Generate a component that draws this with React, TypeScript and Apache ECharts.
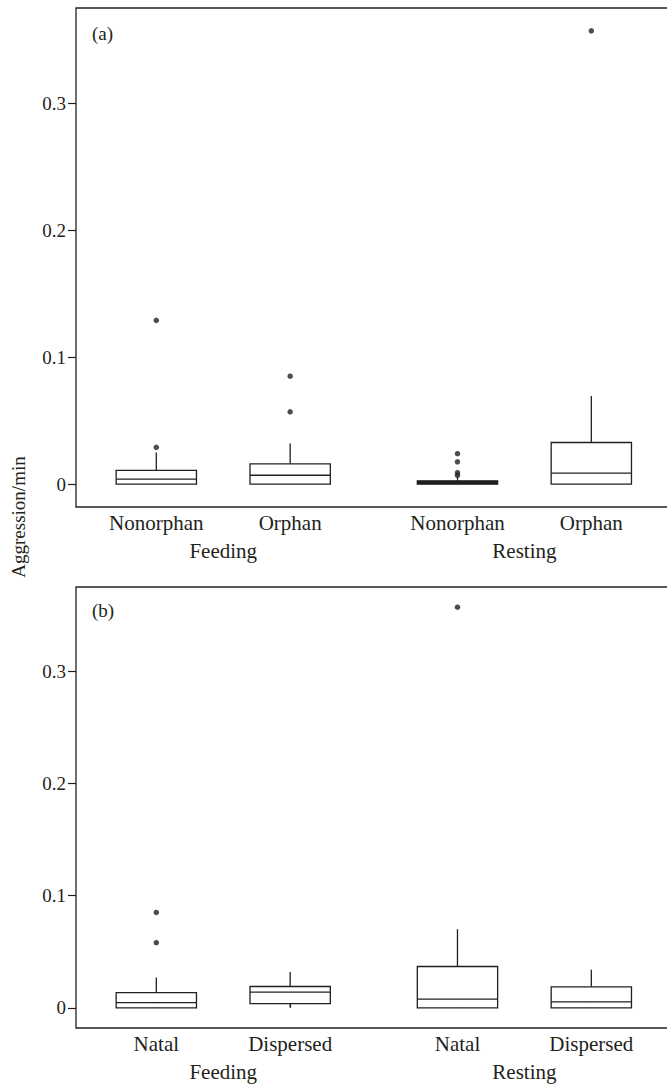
import React, { useEffect, useRef } from "react";
import * as echarts from "echarts";

// ---------- data ----------
const positions = [1, 2, 3.25, 4.25];
const groupPositions = [1.5, 3.75];
const groupNames = ["Feeding", "Resting"];
const catsA = ["Nonorphan", "Orphan", "Nonorphan", "Orphan"];
const catsB = ["Natal", "Dispersed", "Natal", "Dispersed"];
// [min, Q1, median, Q3, max]
const boxesA = [
  [0, 0, 0.004, 0.0108, 0.025],
  [0, 0, 0.007, 0.016, 0.032],
  [0, 0, 0.0013, 0.0026, 0.0026],
  [0, 0, 0.0087, 0.0328, 0.0695],
];
// [category index, value]
const outliersA = [
  [0, 0.029], [0, 0.129],
  [1, 0.057], [1, 0.085],
  [2, 0.007], [2, 0.009], [2, 0.0176], [2, 0.024],
  [3, 0.357],
];
const boxesB = [
  [0, 0, 0.0047, 0.0136, 0.027],
  [0.0006, 0.0038, 0.014, 0.019, 0.032],
  [0, 0, 0.0077, 0.0368, 0.07],
  [0, 0, 0.0053, 0.0187, 0.034],
];
const outliersB = [
  [0, 0.058], [0, 0.085],
  [2, 0.357],
];
const yTicks = [0, 0.1, 0.2, 0.3];
const panelTags = ["(a)", "(b)"];
const yTitle = "Aggression/min";

// ---------- style ----------
const INK = "#231f20";
const FONT = "'Liberation Serif', 'DejaVu Serif', serif";
const FS = 19;
const FSX = 21;
const X_MIN = 0.4;
const X_MAX = 4.9;
const UNIT = 133.85;
const GRID_W = (X_MAX - X_MIN) * UNIT;

function findIdx(arr: number[], v: number) {
  for (let i = 0; i < arr.length; i++) if (Math.abs(arr[i] - v) < 1e-6) return i;
  return -1;
}

export default function App() {
  const ref = useRef<HTMLDivElement>(null);
  useEffect(() => {
    if (!ref.current) return;
    const chart = echarts.init(ref.current, undefined, { renderer: "svg" });
    const panels = [
      { cats: catsA, boxes: boxesA, outs: outliersA, top: 8, height: 499 },
      { cats: catsB, boxes: boxesB, outs: outliersB, top: 587, height: 441 },
    ];
    const textStyle = { fontFamily: FONT, fontSize: FS, color: INK };
    const textStyleX = { fontFamily: FONT, fontSize: FSX, color: INK };
    const grid: any[] = [];
    const xAxis: any[] = [];
    const yAxis: any[] = [];
    const series: any[] = [];
    panels.forEach((p, i) => {
      grid.push({
        left: 76,
        top: p.top,
        width: GRID_W,
        height: p.height,
        show: true,
        borderColor: INK,
        borderWidth: 1.3,
        backgroundColor: "transparent",
      });
      xAxis.push({
        gridIndex: i,
        type: "value",
        min: X_MIN,
        max: X_MAX,
        position: "bottom",
        axisLine: { show: false },
        splitLine: { show: false },
        axisTick: {
          show: true,
          inside: true,
          length: 8,
          customValues: positions,
          lineStyle: { color: INK, width: 1.2 },
        },
        axisLabel: {
          ...textStyleX,
          customValues: positions,
          margin: 5,
          formatter: (v: number) => {
            const k = findIdx(positions, v);
            return k >= 0 ? p.cats[k] : "";
          },
        },
      });
      xAxis.push({
        gridIndex: i,
        type: "value",
        min: X_MIN,
        max: X_MAX,
        position: "bottom",
        offset: 28,
        axisLine: { show: false },
        splitLine: { show: false },
        axisTick: { show: false },
        axisLabel: {
          ...textStyleX,
          customValues: groupPositions,
          margin: 5,
          formatter: (v: number) => {
            const k = findIdx(groupPositions, v);
            return k >= 0 ? groupNames[k] : "";
          },
        },
      });
      yAxis.push({
        gridIndex: i,
        type: "value",
        min: -0.018,
        max: 0.375,
        axisLine: { show: false },
        splitLine: { show: false },
        axisTick: {
          show: true,
          length: 8,
          customValues: yTicks,
          lineStyle: { color: INK, width: 1.2 },
        },
        axisLabel: {
          ...textStyle,
          customValues: yTicks,
          margin: 10,
          formatter: (v: number) => (Math.abs(v) < 1e-9 ? "0" : v.toFixed(1)),
        },
      });
      series.push({
        type: "custom",
        xAxisIndex: i * 2,
        yAxisIndex: i,
        encode: { x: 0, y: [1, 2, 3, 4, 5] },
        data: p.boxes.map((b, k) => [positions[k], ...b]),
        renderItem: (params: any, api: any) => {
          const x = api.value(0);
          const mn = api.coord([x, api.value(1)]);
          const q1 = api.coord([x, api.value(2)]);
          const md = api.coord([x, api.value(3)]);
          const q3 = api.coord([x, api.value(4)]);
          const mx = api.coord([x, api.value(5)]);
          const w = api.size([0.6, 0])[0];
          const cx = mn[0];
          const h = q1[1] - q3[1];
          const ls = { stroke: INK, lineWidth: 1.3, fill: "none" };
          return {
            type: "group",
            children: [
              {
                type: "line",
                shape: { x1: cx, y1: q3[1], x2: cx, y2: mx[1] },
                style: ls,
              },
              {
                type: "line",
                shape: { x1: cx, y1: q1[1], x2: cx, y2: mn[1] },
                style: ls,
              },
              {
                type: "rect",
                shape: { x: cx - w / 2, y: q3[1], width: w, height: h },
                style: { stroke: INK, lineWidth: 1.3, fill: h < 5 ? INK : "#fff" },
              },
              {
                type: "line",
                shape: { x1: cx - w / 2, y1: md[1], x2: cx + w / 2, y2: md[1] },
                style: ls,
              },
            ],
          };
        },
      });
      series.push({
        type: "scatter",
        xAxisIndex: i * 2,
        yAxisIndex: i,
        symbol: "circle",
        symbolSize: 5.5,
        itemStyle: { color: INK },
        data: p.outs.map((o) => [positions[o[0]], o[1]]),
      });
    });

    chart.setOption({
      animation: false,
      backgroundColor: "#fff",
      grid,
      xAxis,
      yAxis,
      series,
      graphic: [
        {
          type: "text",
          x: 92,
          y: 24,
          style: { text: panelTags[0], font: `${FS}px ${FONT}`, fill: INK },
        },
        {
          type: "text",
          x: 92,
          y: 601,
          style: { text: panelTags[1], font: `${FS}px ${FONT}`, fill: INK },
        },
        {
          type: "text",
          x: 18,
          y: 517,
          rotation: Math.PI / 2,
          style: {
            text: yTitle,
            font: `${FS}px ${FONT}`,
            fill: INK,
            align: "center",
            verticalAlign: "middle",
          },
        },
      ],
    });
    return () => chart.dispose();
  }, []);
  return (
    <div
      style={{
        position: "absolute",
        left: 0,
        top: 0,
        width: 667,
        height: 1084,
        overflow: "hidden",
        background: "#fff",
      }}
    >
      <div ref={ref} style={{ width: 690, height: 1084 }} />
    </div>
  );
}
